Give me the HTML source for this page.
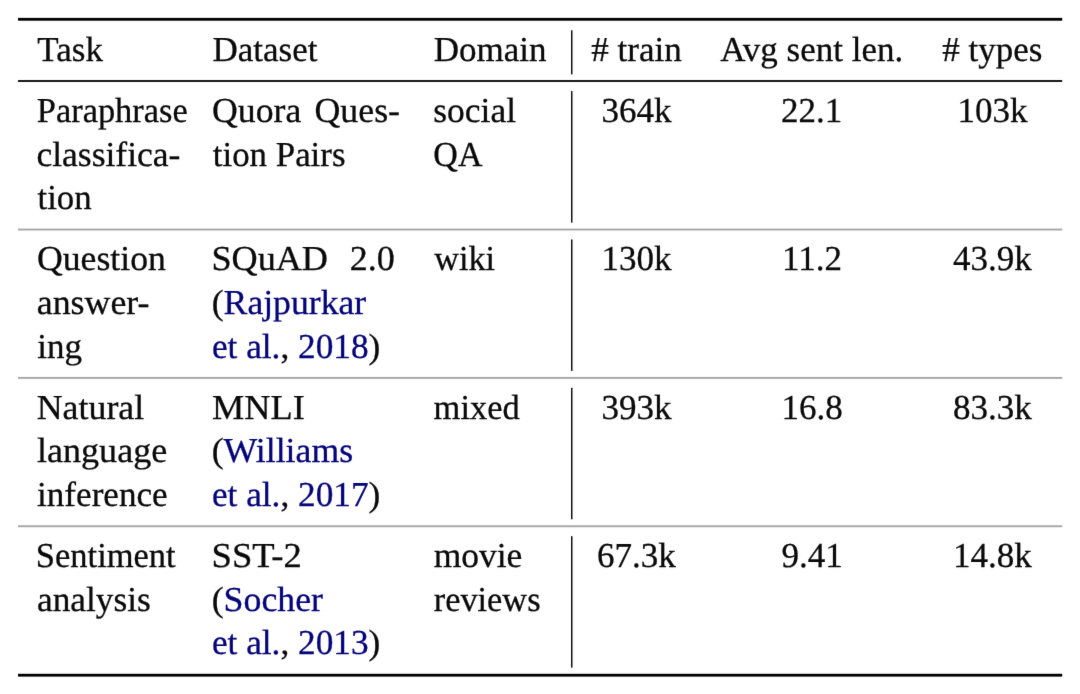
<!DOCTYPE html>
<html lang="en"><head><meta charset="utf-8"><title>Datasets table</title>
<style>
html,body{margin:0;padding:0;background:#fff;}
body{width:1080px;height:694px;position:relative;overflow:hidden;font-family:"Liberation Serif","Times New Roman",serif;font-size:35px;color:#0a0a0a;text-rendering:geometricPrecision;}
.t{position:absolute;white-space:pre;line-height:40px;height:40px;transform-origin:0 0;-webkit-text-stroke:0.3px #0a0a0a;}
.b{color:#05057a;-webkit-text-stroke-color:#05057a;}
svg{position:absolute;left:0;top:0;}
#pg{position:absolute;left:0;top:0;width:1080px;height:694px;filter:url(#soft);}
</style></head><body><div id="pg">
<svg width="1080" height="694" viewBox="0 0 1080 694"><defs><filter id="soft" x="0" y="0" width="100%" height="100%" color-interpolation-filters="sRGB"><feConvolveMatrix order="3" kernelMatrix="0.0052 0.0619 0.0052 0.0619 0.7314 0.0619 0.0052 0.0619 0.0052" divisor="1" edgeMode="duplicate" preserveAlpha="false"/></filter></defs>
<rect x="18.0" y="17.90" width="1044.2" height="2.8" fill="#000"/>
<rect x="18.0" y="80.10" width="1044.2" height="1.8" fill="#000"/>
<rect x="18.0" y="228.60" width="1044.2" height="1.9" fill="#a6a6a6"/>
<rect x="18.0" y="376.95" width="1044.2" height="1.9" fill="#a6a6a6"/>
<rect x="18.0" y="525.30" width="1044.2" height="1.9" fill="#a6a6a6"/>
<rect x="18.0" y="673.80" width="1044.2" height="2.8" fill="#000"/>
<rect x="571.00" y="30.30" width="1.5" height="44.10" fill="#111"/>
<rect x="571.00" y="91.10" width="1.5" height="131.50" fill="#111"/>
<rect x="571.00" y="239.45" width="1.5" height="131.50" fill="#111"/>
<rect x="571.00" y="387.80" width="1.5" height="131.50" fill="#111"/>
<rect x="571.00" y="536.15" width="1.5" height="131.50" fill="#111"/>
</svg>
<div class="tbl" role="table">
<div class="hd" role="row"><div class="cell" role="columnheader">
<div class="t" style="left:37px;top:30px;transform:translate(0.37px,0.40px)">Task</div>
</div><div class="cell" role="columnheader">
<div class="t" style="left:212px;top:30px;transform:translate(0.53px,0.40px)">Dataset</div>
</div><div class="cell" role="columnheader">
<div class="t" style="left:433px;top:30px;transform:translate(0.69px,0.40px)">Domain</div>
</div><div class="cell" role="columnheader">
<div class="t" style="left:591px;top:30px;transform:translate(0.30px,0.40px)"># train</div>
</div><div class="cell" role="columnheader">
<div class="t" style="left:720px;top:30px;transform:translate(0.16px,0.40px)">Avg sent len.</div>
</div><div class="cell" role="columnheader">
<div class="t" style="left:942px;top:30px;transform:translate(0.33px,0.40px)"># types</div>
</div></div>
<div class="row" role="row"><div class="cell" role="cell">
<div class="t" style="left:36px;top:91px;transform:translate(0.74px,0.00px) scaleX(0.9836)">Paraphrase</div>
<div class="t" style="left:36px;top:134px;transform:translate(0.49px,0.60px) scaleX(1.0144)">classifica-</div>
<div class="t" style="left:37px;top:178px;transform:translate(0.49px,0.20px) scaleX(0.9929)">tion</div>
</div><div class="cell" role="cell">
<div class="t" style="left:212px;top:91px;transform:translate(0.04px,0.00px) scaleX(1.0198)">Quora </div>
<div class="t" style="left:314px;top:91px;transform:translate(0.48px,0.00px) scaleX(1.0234)">Ques-</div>
<div class="t" style="left:212px;top:134px;transform:translate(0.83px,0.60px) scaleX(0.9958)">tion Pairs</div>
</div><div class="cell" role="cell">
<div class="t" style="left:433px;top:91px;transform:translate(0.30px,0.00px) scaleX(1.0134)">social</div>
<div class="t" style="left:433px;top:134px;transform:translate(0.34px,0.60px) scaleX(0.9710)">QA</div>
</div><div class="cell" role="cell">
<div class="t" style="left:601px;top:91px;transform:translate(0.50px,0.00px)">364k</div>
</div><div class="cell" role="cell">
<div class="t" style="left:781px;top:91px;transform:translate(0.08px,0.00px)">22.1</div>
</div><div class="cell" role="cell">
<div class="t" style="left:957px;top:91px;transform:translate(0.40px,0.00px)">103k</div>
</div></div>
<div class="row" role="row"><div class="cell" role="cell">
<div class="t" style="left:36px;top:239px;transform:translate(0.97px,0.35px) scaleX(1.0197)">Question</div>
<div class="t" style="left:36px;top:282px;transform:translate(0.79px,0.95px) scaleX(1.0236)">answer-</div>
<div class="t" style="left:37px;top:326px;transform:translate(0.26px,0.55px)">ing</div>
</div><div class="cell" role="cell">
<div class="t" style="left:211px;top:239px;transform:translate(0.45px,0.35px) scaleX(1.0332)">SQuAD </div>
<div class="t" style="left:349px;top:239px;transform:translate(0.71px,0.35px) scaleX(1.0286)">2.0</div>
<div class="t" style="left:211px;top:282px;transform:translate(0.72px,0.95px) scaleX(1.0189)">(<span class="b">Rajpurkar</span></div>
<div class="t" style="left:211px;top:326px;transform:translate(0.88px,0.55px) scaleX(1.0075)"><span class="b">et al.</span>, <span class="b">2018</span>)</div>
</div><div class="cell" role="cell">
<div class="t" style="left:434px;top:239px;transform:translate(0.27px,0.35px) scaleX(0.9775)">wiki</div>
</div><div class="cell" role="cell">
<div class="t" style="left:601px;top:239px;transform:translate(0.50px,0.35px)">130k</div>
</div><div class="cell" role="cell">
<div class="t" style="left:782px;top:239px;transform:translate(0.02px,0.35px)">11.2</div>
</div><div class="cell" role="cell">
<div class="t" style="left:953px;top:239px;transform:translate(0.02px,0.35px)">43.9k</div>
</div></div>
<div class="row" role="row"><div class="cell" role="cell">
<div class="t" style="left:36px;top:387px;transform:translate(0.72px,0.70px) scaleX(1.0239)">Natural</div>
<div class="t" style="left:37px;top:431px;transform:translate(0.04px,0.30px) scaleX(1.0300)">language</div>
<div class="t" style="left:36px;top:474px;transform:translate(0.99px,0.90px) scaleX(1.0041)">inference</div>
</div><div class="cell" role="cell">
<div class="t" style="left:212px;top:387px;transform:translate(0.11px,0.70px) scaleX(1.0357)">MNLI</div>
<div class="t" style="left:211px;top:431px;transform:translate(0.71px,0.30px) scaleX(1.0200)">(<span class="b">Williams</span></div>
<div class="t" style="left:211px;top:474px;transform:translate(0.88px,0.90px) scaleX(1.0075)"><span class="b">et al.</span>, <span class="b">2017</span>)</div>
</div><div class="cell" role="cell">
<div class="t" style="left:433px;top:387px;transform:translate(0.61px,0.70px) scaleX(0.9842)">mixed</div>
</div><div class="cell" role="cell">
<div class="t" style="left:601px;top:387px;transform:translate(0.50px,0.70px)">393k</div>
</div><div class="cell" role="cell">
<div class="t" style="left:781px;top:387px;transform:translate(0.38px,0.70px)">16.8</div>
</div><div class="cell" role="cell">
<div class="t" style="left:953px;top:387px;transform:translate(0.02px,0.70px)">83.3k</div>
</div></div>
<div class="row" role="row"><div class="cell" role="cell">
<div class="t" style="left:35px;top:536px;transform:translate(0.82px,0.05px) scaleX(0.9854)">Sentiment</div>
<div class="t" style="left:37px;top:579px;transform:translate(0.01px,0.65px) scaleX(1.0085)">analysis</div>
</div><div class="cell" role="cell">
<div class="t" style="left:211px;top:536px;transform:translate(0.55px,0.05px) scaleX(1.0456)">SST-2</div>
<div class="t" style="left:211px;top:579px;transform:translate(0.69px,0.65px) scaleX(1.0224)">(<span class="b">Socher</span></div>
<div class="t" style="left:211px;top:623px;transform:translate(0.88px,0.25px) scaleX(1.0075)"><span class="b">et al.</span>, <span class="b">2013</span>)</div>
</div><div class="cell" role="cell">
<div class="t" style="left:433px;top:536px;transform:translate(0.70px,0.05px) scaleX(1.0132)">movie</div>
<div class="t" style="left:433px;top:579px;transform:translate(0.71px,0.65px) scaleX(0.9812)">reviews</div>
</div><div class="cell" role="cell">
<div class="t" style="left:597px;top:536px;transform:translate(0.12px,0.05px)">67.3k</div>
</div><div class="cell" role="cell">
<div class="t" style="left:781px;top:536px;transform:translate(0.38px,0.05px)">9.41</div>
</div><div class="cell" role="cell">
<div class="t" style="left:953px;top:536px;transform:translate(0.02px,0.05px)">14.8k</div>
</div></div></div>
</div></body></html>
